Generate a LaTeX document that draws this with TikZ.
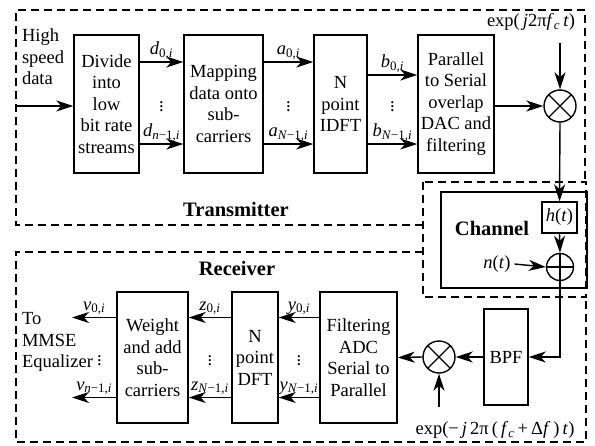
\documentclass[tikz,border=0pt]{standalone}
\usepackage{fontspec}
\setmainfont{Liberation Serif}
\usepackage{tikz}
\usetikzlibrary{arrows.meta,positioning,calc}
\newcommand{\sig}[2]{\textit{#1}\textsubscript{#2}}

\begin{document}
\begin{tikzpicture}[x=1pt,y=-1pt,>={Stealth[length=17pt,width=11pt,inset=5pt]},
  font=\fontsize{18.5}{21.5}\selectfont,
  blk/.style={draw,line width=1.4pt,align=center,inner sep=1pt},
  mix/.style={draw,circle,line width=1.4pt,minimum size=32pt,inner sep=0pt,
    path picture={\draw[line width=1.4pt] (path picture bounding box.north west) -- (path picture bounding box.south east)
      (path picture bounding box.north east) -- (path picture bounding box.south west);}},
  sum/.style={draw,circle,line width=1.4pt,minimum size=27pt,inner sep=0pt,
    path picture={\draw[line width=1.4pt] (path picture bounding box.north) -- (path picture bounding box.south)
      (path picture bounding box.west) -- (path picture bounding box.east);}},
  zone/.style={line width=1.3pt,dash pattern=on 8pt off 5pt},
  ttl/.style={font=\fontsize{20.5}{24}\selectfont\bfseries},
  sl/.style={above,inner sep=2pt},
  dots/.style={inner sep=0pt},
  every path/.append style={line width=1.4pt}]
  \useasboundingbox (0,0) rectangle (595,445);
  % dashed zones
  \draw[zone] (423,225) -- (16,225) -- (16,10) -- (585,10) -- (585,182);
  \draw[zone] (423,182) rectangle (586,297);
  \draw[zone] (423,252) -- (16,252) -- (16,442) -- (586,442) -- (586,297);
  % transmitter
  \node[align=left,anchor=west] (hs) at (18,57) {High\\speed\\data};
  \node[blk,minimum width=65pt,minimum height=138pt] (div) at (106.5,104) {Divide\\into\\low\\bit rate\\streams};
  \node[blk,minimum width=79pt,minimum height=138pt] (map) at (223.5,104) {Mapping\\data onto\\sub-\\carriers};
  \node[blk,minimum width=53pt,minimum height=138pt] (idft) at (340.5,104) {N\\point\\IDFT};
  \node[blk,minimum width=76pt,minimum height=138pt] (ps) at (456,104) {Parallel\\to Serial\\overlap\\DAC and\\filtering};
  \node[mix] (mixT) at (560,106) {};
  \node (expT) at (531,22) {exp(\,\textit{j}2π\textit{f}\textsubscript{\textit{c}}\,\textit{t})};
  \node[ttl] (tx) at (236,209) {Transmitter};
  \coordinate (src) at (16,106);
  \coordinate (loT) at (560,43);
  \draw[->] (src) -- (src -| div.west);
  \draw[->] ([yshift=42pt]div.east) -- node[sl]{\sig{d}{0,\textit{i}}} ([yshift=42pt]map.west);
  \draw[->] ([yshift=-40pt]div.east) -- node[sl]{\sig{d}{\textit{n}−1,\textit{i}}} ([yshift=-40pt]map.west);
  \node[dots] (dd) at ($(div.east)!0.5!(map.west)$) {$\vdots$};
  \draw[->] ([yshift=42pt]map.east) -- node[sl]{\sig{a}{0,\textit{i}}} ([yshift=42pt]idft.west);
  \draw[->] ([yshift=-40pt]map.east) -- node[sl]{\sig{a}{\textit{N}−1,\textit{i}}} ([yshift=-40pt]idft.west);
  \node[dots] (da) at ($(map.east)!0.5!(idft.west)$) {$\vdots$};
  \draw[->] ([yshift=29pt]idft.east) -- node[sl]{\sig{b}{0,\textit{i}}} ([yshift=29pt]ps.west);
  \draw[->] ([yshift=-40pt]idft.east) -- node[sl]{\sig{b}{\textit{N}−1,\textit{i}}} ([yshift=-40pt]ps.west);
  \node[dots] (db) at ($(idft.east)!0.5!(ps.west)$) {$\vdots$};
  \draw[->] (mixT.west -| ps.east) -- (mixT.west);
  \draw[->] (loT) -- (mixT.north);
  % channel
  \node[blk,minimum width=146pt,minimum height=96pt] (chan) at (514,240) {};
  \node[ttl] (chl) at (492,228) {Channel};
  \node[blk,minimum width=35pt,minimum height=31pt] (ht) at (559.5,217.5) {\textit{h}(\textit{t})};
  \node[sum] (add) at (560,267) {};
  \node (nt) at (497,264) {\textit{n}(\textit{t})};
  \draw[->] (mixT.south) -- (ht.north);
  \draw[->] (ht.south) -- (add.north);
  \draw[->] (nt.east) -- (add.west);
  % receiver
  \node[ttl] (rx) at (237,268) {Receiver};
  \node[blk,minimum width=44pt,minimum height=96pt] (bpf) at (506,357) {BPF};
  \node[mix] (mixR) at (439,357) {};
  \node (expR) at (495,430) {exp(−\,\textit{j}\,2π\,(\,\textit{f}\textsubscript{\textit{c}}\,+\,Δ\textit{f}\,)\,\textit{t})};
  \node[blk,minimum width=77pt,minimum height=131pt] (filt) at (358.5,357.5) {Filtering\\ADC\\Serial to\\Parallel};
  \node[blk,minimum width=46pt,minimum height=131pt] (dft) at (255,357.5) {N\\point\\DFT};
  \node[blk,minimum width=71pt,minimum height=131pt] (wgt) at (152.5,357.5) {Weight\\and add\\sub-\\carriers};
  \node[align=left,anchor=west] (mmse) at (18,342) {To\\MMSE\\Equalizer};
  \coordinate (loR) at (439,407);
  \coordinate (v0) at (72,317.5);
  \coordinate (vn) at (72,397.5);
  \draw[->] (add.south) |- (bpf.east);
  \draw[->] (bpf.west) -- (mixR.east);
  \draw[->] (loR) -- (mixR.south);
  \draw[->] (mixR.west) -- (filt.east);
  \draw[->] ([yshift=40pt]filt.west) -- node[sl]{\sig{y}{0,\textit{i}}} ([yshift=40pt]dft.east);
  \draw[->] ([yshift=-40pt]filt.west) -- node[sl]{\sig{y}{\textit{N}−1,\textit{i}}} ([yshift=-40pt]dft.east);
  \node[dots] (dy) at ($(filt.west)!0.5!(dft.east)$) {$\vdots$};
  \draw[->] ([yshift=40pt]dft.west) -- node[sl]{\sig{z}{0,\textit{i}}} ([yshift=40pt]wgt.east);
  \draw[->] ([yshift=-40pt]dft.west) -- node[sl]{\sig{z}{\textit{N}−1,\textit{i}}} ([yshift=-40pt]wgt.east);
  \node[dots] (dz) at ($(dft.west)!0.5!(wgt.east)$) {$\vdots$};
  \draw[->] (wgt.west |- v0) -- node[sl]{\sig{v}{0,\textit{i}}} (v0);
  \draw[->] (wgt.west |- vn) -- node[sl]{\sig{v}{\textit{n}−1,\textit{i}}} (vn);
  \node[dots] (dv) at ($(wgt.west)!0.38!(v0 |- wgt.west)$) {$\vdots$};
\end{tikzpicture}
\end{document}
